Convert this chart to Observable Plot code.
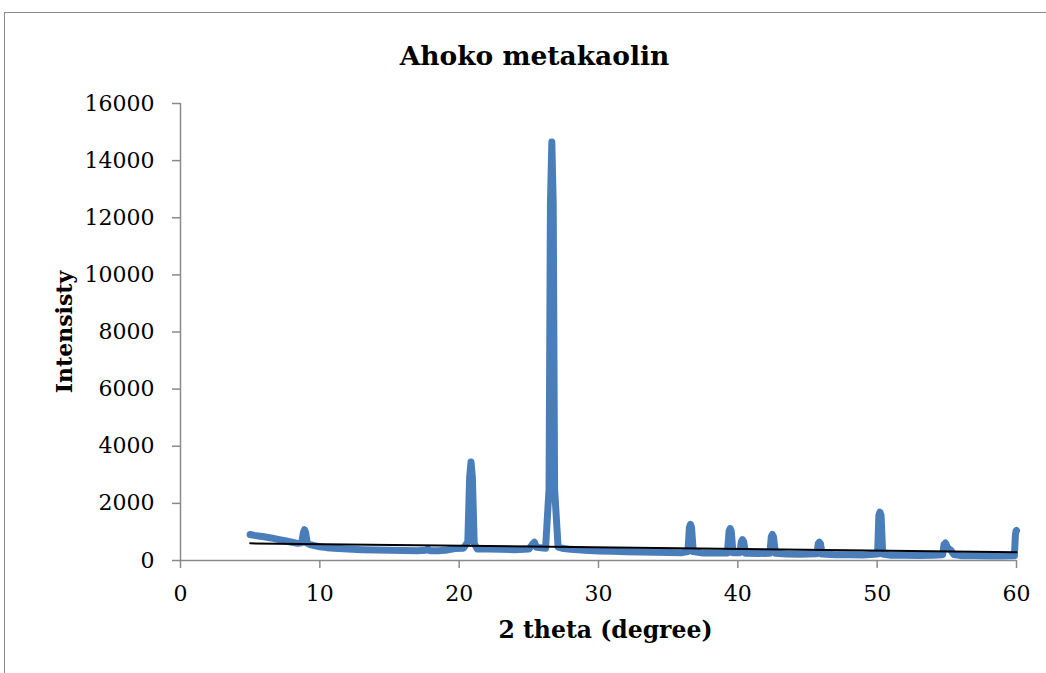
<!DOCTYPE html>
<html>
<head>
<meta charset="utf-8">
<script src="https://cdn.jsdelivr.net/npm/d3@7"></script>
<script src="https://cdn.jsdelivr.net/npm/@observablehq/plot@0.6"></script>
<style>
  html, body { margin: 0; padding: 0; background: #fff; }
  #wrap { position: relative; width: 1046px; height: 673px; overflow: hidden; }
  #frame { position: absolute; left: 4px; top: 12px; width: 1100px; height: 700px;
           border-left: 1.5px solid #8a8a8a; border-top: 1.5px solid #8a8a8a; }
  #chart { position: absolute; left: 0; top: 0; }
</style>
</head>
<body>
<div id="wrap"><div id="frame"></div><div id="chart"></div></div>
<script>
const title = "Ahoko metakaolin";
const xLabel = "2 theta (degree)";
const yLabel = "Intensisty";
const xTicks = [0, 10, 20, 30, 40, 50, 60];
const yTicks = [0, 2000, 4000, 6000, 8000, 10000, 12000, 14000, 16000];

// XRD pattern (2θ, intensity)
const twoTheta = [
  5.0, 5.3, 5.6, 6.0, 6.5, 7.0, 7.5, 8.0, 8.4, 8.7, 8.82, 8.9, 8.98, 9.1, 9.3, 9.6,
  10.0, 10.5, 11.0, 12.0, 13.0, 14.0, 15.0, 16.0, 17.0, 17.6, 17.75, 17.9, 18.5, 19.0, 19.7, 20.3,
  20.62, 20.75, 20.85, 20.95, 21.08, 21.3, 22.0, 23.0, 24.0, 25.0, 25.28, 25.4, 25.55, 26.2,
  26.45, 26.55, 26.65, 26.75, 26.85, 27.1, 27.5, 28.0, 29.0, 30.0, 31.0, 32.0, 33.0, 34.0, 35.0, 36.0,
  36.42, 36.52, 36.6, 36.68, 36.8, 37.5, 38.5, 39.25, 39.37, 39.45, 39.53, 39.65, 40.15, 40.25, 40.33, 40.42, 40.55,
  41.5, 42.3, 42.4, 42.48, 42.56, 42.7, 43.5, 44.5, 45.68, 45.77, 45.85, 45.93, 46.05, 47.0, 48.0, 49.0,
  50.03, 50.12, 50.2, 50.28, 50.4, 51.0, 52.0, 53.0, 54.0, 54.7, 54.8, 54.9, 55.05, 55.3, 55.5, 56.0,
  57.0, 58.0, 59.0, 59.85, 59.92, 59.97, 60.0
];
const intensity = [
  910, 880, 860, 830, 790, 740, 690, 640, 600, 620, 980, 1080, 980, 600, 560, 520,
  480, 450, 430, 400, 380, 365, 355, 350, 345, 360, 400, 340, 345, 355, 420, 430,
  650, 2900, 3450, 2900, 600, 400, 400, 390, 380, 400, 580, 640, 460, 430,
  2500, 12500, 14650, 12500, 2500, 470, 420, 390, 360, 330, 320, 305, 295, 285, 280, 275,
  310, 1150, 1270, 1150, 310, 265, 260, 265, 1020, 1120, 1020, 270, 275, 660, 730, 660, 255,
  245, 255, 830, 910, 830, 250, 230, 220, 235, 590, 640, 590, 225, 205, 200, 195,
  225, 1580, 1690, 1580, 225, 185, 180, 175, 180, 205, 560, 610, 450, 350, 210, 170,
  165, 160, 160, 165, 900, 1040, 1050
];
// linear trend line
const trendX = [5, 60];
const trendY = [600, 290];

const data = twoTheta.map((x, i) => ({x, y: intensity[i]}));
const trend = trendX.map((x, i) => ({x, y: trendY[i]}));

const gray = "#8a8a8a";
const fmt = d3.format("d");

const chart = Plot.plot({
  width: 1046,
  height: 673,
  marginLeft: 180,
  marginRight: 30,
  marginTop: 103,
  marginBottom: 113,
  style: {fontFamily: "'DejaVu Serif', serif", fontSize: "22px", background: "transparent", color: "#000"},
  x: {domain: [0, 60]},
  y: {domain: [0, 16000]},
  marks: [
    Plot.axisX({ticks: xTicks, tickSize: 8, tickPadding: 17, tickFormat: fmt, stroke: gray, strokeWidth: 1.5, fill: "#000", label: null, fontSize: 22}),
    Plot.axisY({ticks: yTicks, tickSize: 8, tickPadding: 18, tickFormat: fmt, stroke: gray, strokeWidth: 1.5, fill: "#000", label: null, fontSize: 22}),
    Plot.ruleX([0], {stroke: gray, strokeWidth: 1.5}),
    Plot.ruleY([0], {stroke: gray, strokeWidth: 1.5}),
    Plot.line(data, {x: "x", y: "y", stroke: "#4a7ebb", strokeWidth: 7, strokeLinejoin: "round", strokeLinecap: "round"}),
    Plot.line(trend, {x: "x", y: "y", stroke: "#000", strokeWidth: 2}),
    Plot.text([title], {frameAnchor: "top", dx: -64, dy: -57, text: d => d, fontWeight: "bold", fontSize: 26.5, textAnchor: "middle"}),
    Plot.text([yLabel], {frameAnchor: "left", dx: -116, rotate: -90, text: d => d, fontWeight: "bold", fontSize: 22, textAnchor: "middle"}),
    Plot.text([xLabel], {frameAnchor: "bottom", dx: 7, dy: 77, text: d => d, fontWeight: "bold", fontSize: 23.5, textAnchor: "middle"})
  ]
});
document.getElementById("chart").appendChild(chart);
</script>
</body>
</html>
